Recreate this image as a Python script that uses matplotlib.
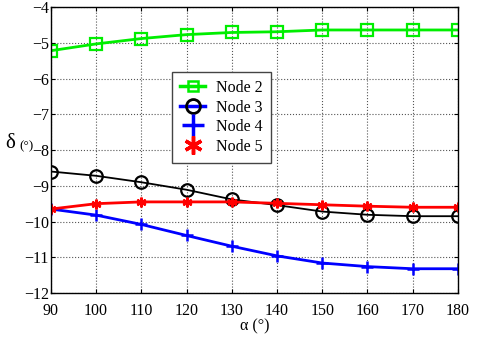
import matplotlib as mpl
mpl.use("Agg")
import matplotlib.pyplot as plt
from matplotlib.lines import Line2D

# data (alpha in degrees, delta in degrees)
alpha = [90, 100, 110, 120, 130, 140, 150, 160, 170, 180]
node2 = [-5.22, -5.03, -4.88, -4.77, -4.71, -4.69, -4.64, -4.64, -4.64, -4.64]
node3 = [-8.60, -8.72, -8.90, -9.11, -9.38, -9.54, -9.72, -9.81, -9.85, -9.85]
node4 = [-9.65, -9.82, -10.08, -10.39, -10.69, -10.96, -11.16, -11.26, -11.32, -11.32]
node5 = [-9.65, -9.50, -9.45, -9.45, -9.45, -9.49, -9.53, -9.57, -9.60, -9.60]
labels = ["Node 2", "Node 3", "Node 4", "Node 5"]

plt.rcParams["font.family"] = ["Liberation Serif", "DejaVu Serif"]
plt.rcParams["font.size"] = 11.5

asterisk = (6, 2, 0)

fig = plt.figure(figsize=(4.8, 3.38), dpi=100)
ax = fig.add_axes([0.106, 0.133, 0.848, 0.846])

ax.plot(alpha, node2, color="#00ee00", lw=2, marker="s", ms=8, mfc="none", mew=1.6)
ax.plot(alpha, node3, color="black", lw=1.3, marker="o", ms=9, mfc="none", mew=1.6)
ax.plot(alpha, node4, color="#0000ff", lw=2, marker="+", ms=9, mew=1.8)
ax.plot(alpha, node5, color="#ff0000", lw=2, marker=asterisk, ms=7, mew=1.8)

ax.set_xlim(90, 180)
ax.set_ylim(-12, -4)
ax.set_xticks(range(90, 181, 10))
ax.set_yticks(range(-12, -3, 1))
ax.grid(True, color="#555555", ls=":", lw=0.8)
ax.tick_params(direction="in", top=True, right=True, length=3)
ax.tick_params(axis="x", pad=7)
ax.tick_params(axis="y", pad=1.5)
for s in ax.spines.values():
    s.set_linewidth(1.0)

ax.set_xlabel("α (°)", labelpad=0)
# y label: large delta with a smaller unit next to it
fig.text(10 / 480, 1 - 143 / 338, "δ", fontsize=15, ha="center", va="center")
fig.text(26 / 480, 1 - 146 / 338, "(°)", fontsize=9.5, ha="center", va="center")

# legend handles as drawn in the source figure
handles = [
    Line2D([], [], color="#00ee00", lw=2.5, marker="s", ms=7, mfc="none", mew=1.8),
    Line2D([], [], color="#0000ff", lw=2.5, marker="o", ms=10, mfc="none", mec="black", mew=2),
    Line2D([], [], color="#0000ff", lw=0, marker="+", ms=16, mew=2.5),
    Line2D([], [], color="#ff0000", lw=0, marker=asterisk, ms=13, mew=2.5),
]
leg = ax.legend(handles, labels, loc="upper left", bbox_to_anchor=(0.297, 0.773),
                borderaxespad=0, fancybox=False, edgecolor="#444444", framealpha=1,
                handlelength=1.6, borderpad=0.5, labelspacing=0.22, handletextpad=0.7)
leg.get_frame().set_linewidth(1.0)

fig.savefig("out.png", dpi=100)
